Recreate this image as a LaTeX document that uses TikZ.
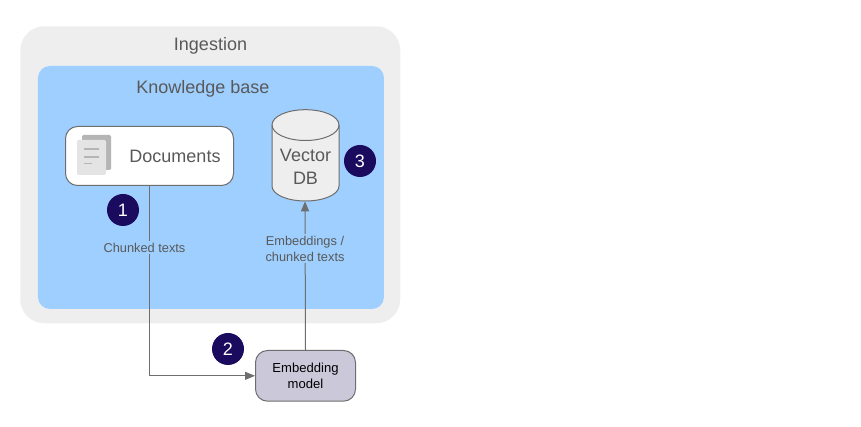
\documentclass[tikz,border=0pt]{standalone}
\usepackage{fontspec}
\setmainfont{Liberation Sans}
\usetikzlibrary{arrows.meta}
\definecolor{txt}{HTML}{595959}
\definecolor{edge}{HTML}{6E6E6E}
\definecolor{outer}{HTML}{EEEEEE}
\definecolor{kb}{HTML}{9ECFFF}
\definecolor{badge}{HTML}{1A0B5E}
\definecolor{model}{HTML}{CBC8DA}
\tikzset{
  x=0.75pt,y=-0.75pt,
  region/.style={rectangle,inner sep=0pt,anchor=north west},
  roundbox/.style={rectangle,rounded corners=9pt,draw=edge,line width=0.75pt,inner sep=0pt,anchor=north west},
  big/.style={font=\fontsize{13.5pt}{16pt}\selectfont,text=txt,inner sep=0pt},
  small/.style={font=\fontsize{9.6pt}{12pt}\selectfont,text=txt,inner sep=1pt,align=center,fill=kb},
  stepbadge/.style={circle,fill=badge,text=white,minimum size=24pt,inner sep=0pt,font=\fontsize{13.5pt}{16pt}\selectfont},
  conn/.style={draw=edge,line width=0.75pt},
  tip/.style={-{Triangle[length=7.5pt,width=6pt,fill=edge]}}
}
\begin{document}
\begin{tikzpicture}
\useasboundingbox (0,0) rectangle (861,427);
\node[region,fill=outer,rounded corners=18pt,minimum width=285pt,minimum height=222.75pt] (ing) at (20,26) {};
\node[region,fill=kb,rounded corners=9pt,minimum width=259.5pt,minimum height=182.25pt] (kbase) at (37.7,65.7) {};
\node[big] (ingt) at (210.5,45.5) {Ingestion};
\node[big] (kbt) at (203,88.5) {Knowledge base};
\node[roundbox,fill=white,minimum width=126pt,minimum height=44.25pt] (docs) at (65,126) {};
\fill[fill=black!29,rounded corners=1pt] (82,135) rectangle (111,170);
\fill[fill=black!10.5,rounded corners=1pt] (77,140) rectangle (106,175);
\draw[black!29,line width=1pt] (84,149) -- (99,149) (84,157) -- (99,157) (84,163.5) -- (92,163.5);
\node[big] (docst) at (175,156.5) {Documents};
\node[rectangle,inner sep=0pt,minimum width=50.25pt,minimum height=68.6pt] (db) at (305,155.3) {};
\draw[draw=edge,line width=0.75pt,fill=outer]
  (272,125) .. controls (272,116.4) and (287,109.7) .. (305.5,109.7)
  .. controls (324,109.7) and (339,116.4) .. (339,125)
  -- (339,186) .. controls (339,194.5) and (324,201) .. (305.5,201)
  .. controls (287,201) and (272,194.5) .. (272,186) -- cycle;
\draw[draw=edge,line width=0.75pt]
  (272,125) .. controls (272,133.6) and (287,140.5) .. (305.5,140.5)
  .. controls (324,140.5) and (339,133.6) .. (339,125);
\node[big,align=center,font=\fontsize{13.5pt}{17pt}\selectfont] (dbt) at (305.5,167) {Vector\\DB};
\node[roundbox,fill=model,minimum width=75pt,minimum height=38pt] (emb) at (255,350) {};
\node[align=center,text=black,inner sep=0pt,font=\fontsize{9.8pt}{12pt}\selectfont] (embt) at (305.5,375.5) {Embedding\\model};
\draw[conn,tip] (docs.south) -- (docs.south |- emb.west) -- (emb.west);
\draw[conn,tip] (emb.north) -- (db.south);
\node[small] (l1) at (144.5,247.5) {Chunked texts};
\node[small] (l2) at (305,248.5) {Embeddings /\\chunked texts};
\node[stepbadge] (s1) at (123,210) {1};
\node[stepbadge] (s2) at (228,349) {2};
\node[stepbadge] (s3) at (360,161) {3};
\end{tikzpicture}
\end{document}
